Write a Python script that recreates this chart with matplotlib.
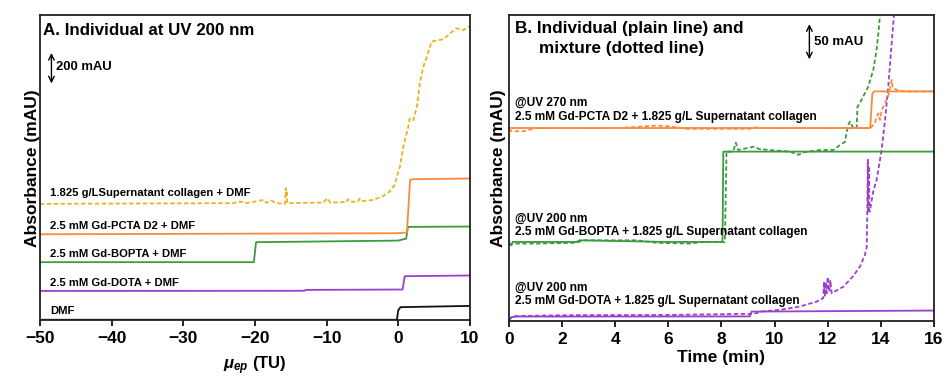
import matplotlib.pyplot as plt

plt.rcParams['font.family'] = ['Liberation Sans', 'DejaVu Sans']
plt.rcParams['font.weight'] = 'bold'
plt.rcParams['mathtext.fontset'] = 'custom'
plt.rcParams['mathtext.rm'] = 'Liberation Sans:bold'
plt.rcParams['mathtext.it'] = 'Liberation Sans:bold:italic'

ORANGE = "#FB8A3C"
GREEN = "#3E9A3E"
PURPLE = "#9B3FCC"
YELLOW = "#EDB11E"
BLACK = "#111111"

# ---- panel A: individual runs at 200 nm (x = mobility, TU; y = mAU, stacked)
a_dmf_x = [-50, -0.2, 0.0, 0.3, 10]
a_dmf_y = [2, 2, 55, 72, 79]
a_dota_x = [-50, -13.1, -12.9, 0.6, 0.9, 10]
a_dota_y = [162, 163, 168, 170, 244, 248]
a_bopta_x = [-50, -20.15, -19.85, 0.0, 0.7, 1.1, 1.35, 10]
a_bopta_y = [322, 322, 433, 442, 449, 452, 518, 520]
a_pcta_x = [-50, 0.0, 1.2, 1.65, 2.1, 10]
a_pcta_y = [477, 483, 487, 779, 783, 787]
a_coll_x = [-50, -23.0, -22.1, -21.2, -18.8, -18.4, -17.7, -17.0, -15.8, -15.7,
            -15.62, -15.55, -15.5, -10.5, -9.9, -9.5, -7.2, -7.0, -6.7, -5.6, -5.4,
            -5.1, -3.5, -2.1, -1.2, -0.5, 0.0, 0.23, 0.7, 1.4, 1.6, 2.1, 2.6, 3.0,
            3.5, 4.0, 4.65, 6.3, 7.7, 8.1, 9.1, 10]
a_coll_y = [646, 650, 659, 650, 668, 652, 664, 650, 646, 733,
            700, 720, 650, 653, 677, 653, 657, 672, 657, 660, 675,
            661, 668, 690, 714, 751, 825, 853, 964, 1075, 1122, 1112, 1187, 1316,
            1409, 1464, 1548, 1561, 1609, 1622, 1612, 1635]

a_labels = ["1.825 g/LSupernatant collagen + DMF", "2.5 mM Gd-PCTA D2 + DMF",
            "2.5 mM Gd-BOPTA + DMF", "2.5 mM Gd-DOTA + DMF", "DMF"]
a_label_y = [705, 524, 368, 209, 51]

# ---- panel B: individual (solid) and mixture (dashed), x = time in min
b_pcta_x = [0, 13.6, 13.68, 13.75, 16]
b_pcta_y = [237, 237, 279, 282, 282]
b_pcta_mix_x = [0, 0.09, 0.53, 1.03, 2.29, 4.17, 5.55, 6.06, 6.68, 7.31, 9.07, 9.2,
                9.45, 11.08, 13.6, 13.78, 13.84, 13.91, 13.97, 14.03, 14.16, 14.28,
                14.41, 14.45, 14.6, 14.85, 16]
b_pcta_mix_y = [236, 233, 233, 237, 237, 237, 240, 239, 236, 236, 236, 238,
                237, 237, 237, 243, 251, 255, 247, 259, 268, 276,
                296, 286, 284, 282, 282]
b_bopta_x = [0, 0.09, 0.15, 2.54, 2.66, 6.0, 8.04, 8.07, 16]
b_bopta_y = [97, 93, 97, 97, 99, 97, 97, 208, 208]
b_bopta_mix_x = [0, 0.15, 1.03, 2.54, 2.79, 4.8, 5.55, 6.81, 7.31, 8.13, 8.19,
                 8.44, 8.54, 8.63, 9.2, 9.45, 10.58, 10.89, 11.08, 11.71, 12.21,
                 12.46, 12.65, 12.71, 12.78, 12.84, 12.9, 12.96, 13.09, 13.12,
                 13.22, 13.34, 13.53, 13.72, 13.84, 13.91, 13.97]
b_bopta_mix_y = [93, 95, 95, 96, 99, 99, 96, 95, 97, 97, 208,
                 208, 219, 210, 214, 211, 208, 204, 207, 210, 210,
                 216, 220, 231, 241, 245, 241, 237, 237, 263,
                 268, 276, 288, 309, 333, 354, 376]
b_dota_x = [0, 0.09, 0.28, 9.07, 9.13, 16]
b_dota_y = [0.5, 4.5, 5.3, 5.5, 11.4, 12.7]
b_dota_mix_x = [0, 0.09, 0.28, 2.29, 6.06, 8.69, 9.07, 9.32, 9.45, 10.2, 10.95,
                11.58, 11.83, 11.86, 11.9, 11.93, 11.96, 12.0, 12.06, 12.1, 12.15,
                12.59, 12.96, 13.22, 13.4, 13.47, 13.49, 13.51, 13.53, 13.55,
                13.57, 13.59, 13.72, 13.84, 14.03, 14.16, 14.28, 14.37, 14.45, 14.5]
b_dota_mix_y = [1, 4.5, 6, 7, 7.3, 8.6, 8.6, 9.4, 11.4, 13.5, 17.6,
                23.7, 27.8, 47, 30, 48, 34, 54, 36, 50, 34,
                42, 55, 67, 81, 91, 132, 198, 136, 190,
                134, 136, 160, 173, 210, 247, 288, 325, 358, 378]

b_labels = ["@UV 270 nm", "2.5 mM Gd-PCTA D2 + 1.825 g/L Supernatant collagen",
            "@UV 200 nm", "2.5 mM Gd-BOPTA + 1.825 g/L Supernatant collagen",
            "@UV 200 nm", "2.5 mM Gd-DOTA + 1.825 g/L Supernatant collagen"]
b_label_y = [268, 251, 126, 109, 41, 24.5]

DASH = (0, (2.4, 1.4))
LW = 1.3

fig = plt.figure(figsize=(9.45, 3.82), dpi=100)
axA = fig.add_axes([0.0423, 0.162, 0.455, 0.798])
axB = fig.add_axes([0.5386, 0.160, 0.4497, 0.801])

axA.plot(a_dmf_x, a_dmf_y, color=BLACK, lw=LW)
axA.plot(a_dota_x, a_dota_y, color=PURPLE, lw=LW)
axA.plot(a_bopta_x, a_bopta_y, color=GREEN, lw=LW)
axA.plot(a_pcta_x, a_pcta_y, color=ORANGE, lw=LW)
axA.plot(a_coll_x, a_coll_y, color=YELLOW, lw=LW, ls=DASH)
for lab, y in zip(a_labels, a_label_y):
    axA.text(-48.6, y, lab, fontsize=8.1, fontweight='bold', va='center')
axA.set_xlim(-50, 10)
axA.set_ylim(0, 1694)
axA.set_xticks([-50, -40, -30, -20, -10, 0, 10])
axA.text(0.007, 0.951, "A. Individual at UV 200 nm", transform=axA.transAxes,
         fontsize=12.2, fontweight='bold', va='center')
axA.annotate("", xy=(-48.4, 1500), xytext=(-48.4, 1300),
             arrowprops=dict(arrowstyle='<->', color='black', lw=1.0))
axA.text(-47.7, 1408, "200 mAU", fontsize=9.4, fontweight='bold', va='center')
axA.set_xlabel(r"$\mu_{ep}$ (TU)", fontsize=12, fontweight='bold', labelpad=6)
axA.set_ylabel("Absorbance (mAU)", fontsize=12.5, fontweight='bold', labelpad=0)

axB.plot(b_dota_x, b_dota_y, color=PURPLE, lw=LW)
axB.plot(b_dota_mix_x, b_dota_mix_y, color=PURPLE, lw=LW, ls=DASH)
axB.plot(b_bopta_x, b_bopta_y, color=GREEN, lw=LW)
axB.plot(b_bopta_mix_x, b_bopta_mix_y, color=GREEN, lw=LW, ls=DASH)
axB.plot(b_pcta_x, b_pcta_y, color=ORANGE, lw=LW)
axB.plot(b_pcta_mix_x, b_pcta_mix_y, color=ORANGE, lw=LW, ls=DASH)
for lab, y in zip(b_labels, b_label_y):
    axB.text(0.21, y, lab, fontsize=8.6, fontweight='bold', va='center')
axB.set_xlim(0, 16)
axB.set_ylim(0, 376)
axB.set_xticks(range(0, 17, 2))
axB.text(0.014, 0.957, "B. Individual (plain line) and", transform=axB.transAxes,
         fontsize=12.3, fontweight='bold', va='center')
axB.text(0.071, 0.891, "mixture (dotted line)", transform=axB.transAxes,
         fontsize=12.3, fontweight='bold', va='center')
axB.annotate("", xy=(11.31, 368), xytext=(11.31, 318),
             arrowprops=dict(arrowstyle='<->', color='black', lw=1.0))
axB.text(11.48, 343, "50 mAU", fontsize=9.5, fontweight='bold', va='center')
axB.set_xlabel("Time (min)", fontsize=12.5, fontweight='bold', labelpad=2)
axB.set_ylabel("Absorbance (mAU)", fontsize=12.5, fontweight='bold', labelpad=2)

for ax in (axA, axB):
    ax.set_yticks([])
    ax.tick_params(axis='x', direction='out', length=4, width=1.2, labelsize=12.5, pad=4)
    for lbl in ax.get_xticklabels():
        lbl.set_fontweight('bold')
    for sp in ax.spines.values():
        sp.set_linewidth(1.3)
        sp.set_color('#222222')

fig.savefig("out.png", dpi=100)
